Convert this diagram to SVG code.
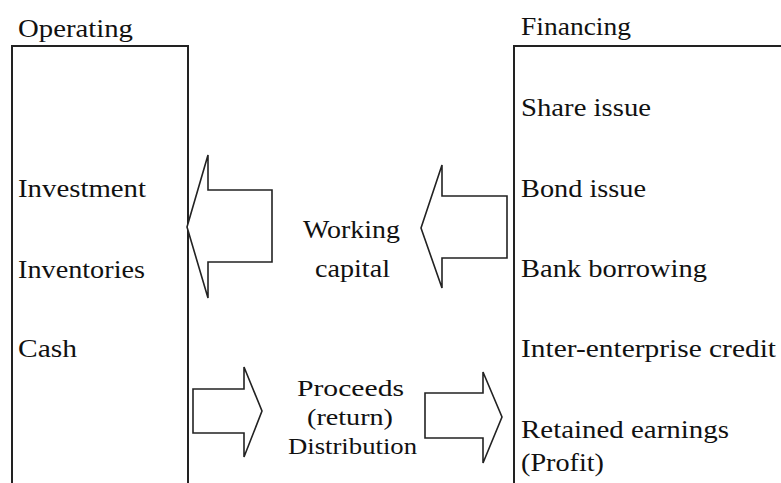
<svg xmlns="http://www.w3.org/2000/svg" width="781" height="483" viewBox="0 0 781 483">
<style>
text{font-family:"Liberation Serif","Times New Roman",serif;font-size:26px;fill:#111}
#proceeds text{font-size:24px}
.box{fill:none;stroke:#222;stroke-width:2}
.arr{fill:#fff;stroke:#222;stroke-width:1.6;stroke-linejoin:miter}
</style>
<rect width="781" height="483" fill="#fff"/>
<g id="operating">
<path class="box" d="M12,484 V46 H188 V484"/>
<text x="18" y="37" textLength="115" lengthAdjust="spacingAndGlyphs">Operating</text>
<text x="18" y="197" textLength="128" lengthAdjust="spacingAndGlyphs">Investment</text>
<text x="18" y="278" textLength="127" lengthAdjust="spacingAndGlyphs">Inventories</text>
<text x="18" y="357" textLength="59" lengthAdjust="spacingAndGlyphs">Cash</text>
</g>
<g id="financing">
<path class="box" d="M514,484 V46 H782"/>
<text x="521" y="35" textLength="110" lengthAdjust="spacingAndGlyphs">Financing</text>
<text x="521" y="116" textLength="130" lengthAdjust="spacingAndGlyphs">Share issue</text>
<text x="521" y="197" textLength="125" lengthAdjust="spacingAndGlyphs">Bond issue</text>
<text x="521" y="277" textLength="186" lengthAdjust="spacingAndGlyphs">Bank borrowing</text>
<text x="521" y="357" textLength="255" lengthAdjust="spacingAndGlyphs">Inter-enterprise credit</text>
<text x="521" y="438" textLength="208" lengthAdjust="spacingAndGlyphs">Retained earnings</text>
<text x="521" y="471" textLength="83" lengthAdjust="spacingAndGlyphs">(Profit)</text>
</g>
<g id="working-capital">
<text x="303" y="238" textLength="97" lengthAdjust="spacingAndGlyphs">Working</text>
<text x="315" y="277" textLength="75" lengthAdjust="spacingAndGlyphs">capital</text>
</g>
<g id="proceeds">
<text x="297" y="396" textLength="107" lengthAdjust="spacingAndGlyphs">Proceeds</text>
<text x="307" y="425" textLength="86" lengthAdjust="spacingAndGlyphs">(return)</text>
<text x="288" y="454" textLength="129" lengthAdjust="spacingAndGlyphs">Distribution</text>
</g>
<g id="connectors">
<polygon class="arr" points="187,227 208,155 208,190 272,190 272,262 208,262 208,298"/>
<polygon class="arr" points="421,228 442,165 442,196 507,196 507,258 442,258 442,288"/>
<polygon class="arr" points="193,389 244,389 244,367 262,411 244,457 244,433 193,433"/>
<polygon class="arr" points="425,393 483,393 483,372 502,417 483,463 483,438 425,438"/>
</g>
</svg>
